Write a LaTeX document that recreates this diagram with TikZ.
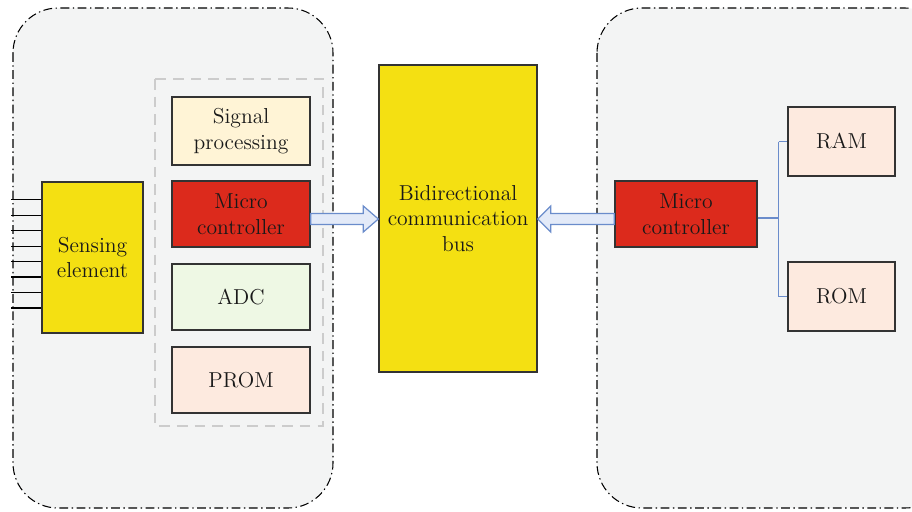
\documentclass[tikz,border=0pt]{standalone}
\usepackage{tikz}
\usetikzlibrary{positioning, calc}
\usepackage{xcolor}
\definecolor{panelGray}{HTML}{F3F4F4}
\definecolor{chipRed}{HTML}{DC2A1C}
\definecolor{busYellow}{HTML}{F4E012}
\definecolor{sigYellow}{HTML}{FFF4D6}
\definecolor{adcGreen}{HTML}{EEF8E4}
\definecolor{memPeach}{HTML}{FDEADF}
\definecolor{linkBlue}{HTML}{6A8CCB}
\definecolor{arrowFill}{HTML}{E3EAF8}

\tikzset{
    panel/.style={fill=panelGray, draw=black, line width=0.6pt, rounded corners=0.9cm,
        dash pattern=on 5pt off 2pt on 0.8pt off 2pt},
    block/.style={draw=black!80, line width=0.8pt, align=center, inner sep=2pt,
        font=\fontsize{12.3}{14.5}\selectfont, text=black!90},
    busarrow/.style={draw=linkBlue, fill=arrowFill, line width=0.7pt, line join=miter},
    link/.style={draw=linkBlue, line width=0.8pt}
}

\begin{document}
\begin{tikzpicture}[x=0.02cm, y=-0.02cm]
    \useasboundingbox (0,0) rectangle (912,511);
    \clip (0,0) rectangle (912,511);

    % Panels
    \draw[panel] (13,8) rectangle (333,508);
    \draw[panel] (597,8) rectangle (950,508);
    \draw[gray!40, dash pattern=on 6pt off 4pt, line width=1.3pt] (155,79) rectangle (323,426);

    % Sensor side
    \node[block, fill=busYellow, minimum width=2.02cm, minimum height=3.02cm] (sens) at (92.5,257.5) {Sensing\\element};
    \node[block, fill=sigYellow, minimum width=2.76cm, minimum height=1.36cm] (sig) at (241,131) {Signal\\processing};
    \node[block, fill=chipRed, minimum width=2.76cm, minimum height=1.32cm] (mcl) at (241,214) {Micro\\controller};
    \node[block, fill=adcGreen, minimum width=2.76cm, minimum height=1.32cm] (adc) at (241,297) {ADC};
    \node[block, fill=memPeach, minimum width=2.76cm, minimum height=1.32cm] (prom) at (241,380) {PROM};

    % Sensor pins
    \foreach \i in {0,...,7} {
        \draw[line width=0.7pt] ($(sens.north west)+(0,18.5+15.45*\i)$) -- ++(-30,0);
    }

    % Bus
    \node[block, fill=busYellow, minimum width=3.16cm, minimum height=6.14cm] (bus) at (458,218.5) {Bidirectional\\communication\\bus};

    % Host side
    \node[block, fill=chipRed, minimum width=2.84cm, minimum height=1.32cm] (mcr) at (686,214) {Micro\\controller};
    \node[block, fill=memPeach, minimum width=2.14cm, minimum height=1.38cm] (ram) at (841.5,141.5) {RAM};
    \node[block, fill=memPeach, minimum width=2.14cm, minimum height=1.38cm] (rom) at (841.5,296.5) {ROM};

    % Block arrows
    \coordinate (a1) at ($(mcl.east)+(0,5)$);
    \coordinate (a2) at (a1 -| bus.west);
    \draw[busarrow] ($(a1)+(0,-5.5)$) -- ($(a2)+(-15,-5.5)$) -- ($(a2)+(-15,-13)$) -- (a2)
        -- ($(a2)+(-15,13)$) -- ($(a2)+(-15,5.5)$) -- ($(a1)+(0,5.5)$) -- cycle;
    \coordinate (b1) at ($(mcr.west)+(0,5)$);
    \coordinate (b2) at (b1 -| bus.east);
    \draw[busarrow] ($(b1)+(0,-5.5)$) -- ($(b2)+(13,-5.5)$) -- ($(b2)+(13,-13)$) -- (b2)
        -- ($(b2)+(13,13)$) -- ($(b2)+(13,5.5)$) -- ($(b1)+(0,5.5)$) -- cycle;

    % Memory links
    \coordinate (fork) at ($(mcr.east)+(21,4)$);
    \draw[link] ($(mcr.east)+(0,4)$) -- (fork);
    \draw[link] (fork |- ram.west) -- (fork |- rom.west);
    \draw[link] (fork |- ram.west) -- (ram.west);
    \draw[link] (fork |- rom.west) -- (rom.west);
\end{tikzpicture}
\end{document}
